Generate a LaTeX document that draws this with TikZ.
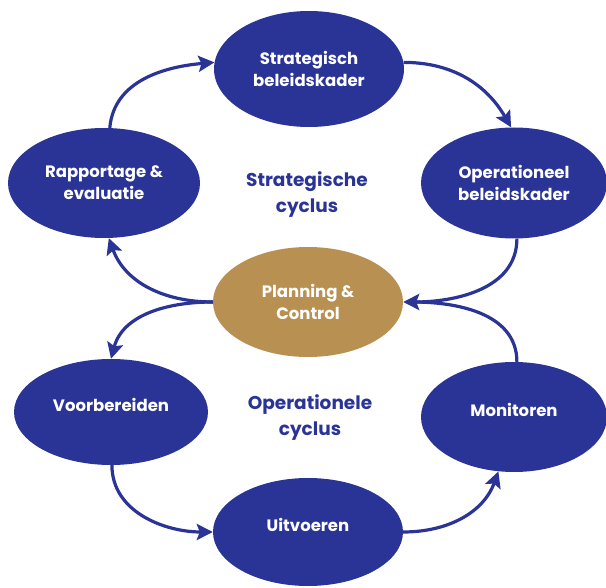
\documentclass[tikz,border=0pt]{standalone}
\usepackage{fontspec}
\setmainfont{Poppins}
\usetikzlibrary{shapes.geometric,arrows.meta}
\definecolor{cblue}{RGB}{42,52,150}
\definecolor{cgold}{RGB}{184,144,82}
\tikzset{
  phase/.style={ellipse, fill=cblue, draw=none, inner sep=0pt, text=white,
    font=\fontsize{16.5}{22}\selectfont\bfseries, align=center},
  oneline/.style={text depth=14pt},
  pcbox/.style={phase, fill=cgold},
  cyclelabel/.style={text=cblue, font=\fontsize{18.5}{26}\selectfont\bfseries, align=center},
  flow/.style={draw=cblue, line width=3.2pt, -{Stealth[length=16pt,width=16pt,inset=3pt]}},
  flowplain/.style={draw=cblue, line width=3.2pt, shorten >=10pt},
}
\begin{document}
\begin{tikzpicture}[x=1pt,y=-1pt]
\useasboundingbox (0,0) rectangle (606,588);
\node[phase, minimum width=190pt, minimum height=116pt] (S) at (309,69) {Strategisch\\beleidskader};
\node[phase, minimum width=186pt, minimum height=111pt] (O) at (514,183) {Operationeel\\beleidskader};
\node[phase, minimum width=192pt, minimum height=110pt] (R) at (104,183) {Rapportage \&\\evaluatie};
\node[pcbox, minimum width=190pt, minimum height=110pt] (P) at (308,302) {Planning \&\\Control};
\node[phase, oneline, minimum width=194pt, minimum height=106pt] (V) at (111,412) {Voorbereiden};
\node[phase, oneline, minimum width=186pt, minimum height=110pt] (M) at (514,417) {Monitoren};
\node[phase, oneline, minimum width=190pt, minimum height=108pt] (U) at (308,532) {Uitvoeren};
\node[cyclelabel] (SC) at (307,195) {Strategische\\cyclus};
\node[cyclelabel] (OC) at (310,418) {Operationele\\cyclus};
% strategic cycle
\draw[flow] (R.84) to[out=85,in=185] (S.176);
\draw[flow] (S.4) to[out=0,in=120] (O.93);
\draw[flow] (O.-87) to[out=-90,in=0] (P.east);
\draw[flowplain] (M.87) to[out=90,in=0] (P.east);
\draw[flow] (P.west) to[out=180,in=-70] (R.-85);
% operational cycle
\draw[flow] (P.west) to[out=180,in=75] (V.90);
\draw[flow] (V.-89) to[out=-90,in=180] (U.west);
\draw[flow] (U.east) to[out=0,in=-110] (M.-106);
\end{tikzpicture}
\end{document}
